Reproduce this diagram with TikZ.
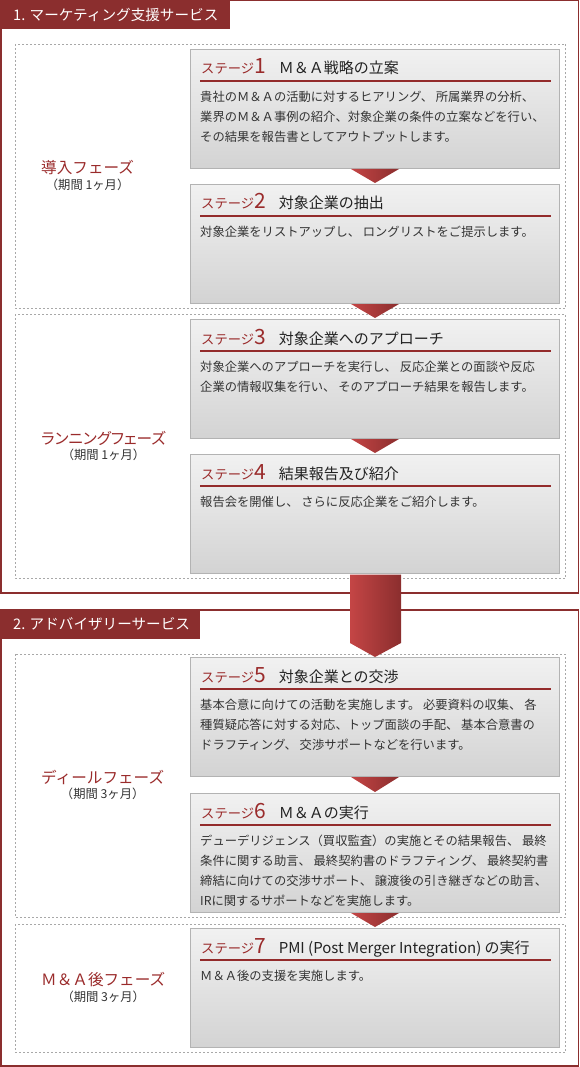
\documentclass[tikz,border=0pt]{standalone}
\usepackage{fontspec}
\setmainfont{Noto Sans CJK JP}
\newfontfamily\jpprop[RawFeature=+palt]{Noto Sans CJK JP}
\usetikzlibrary{calc}
\definecolor{secred}{HTML}{8B2E2E}
\definecolor{titlered}{HTML}{9A2B2B}
\definecolor{ulred}{HTML}{932B2B}
\definecolor{boxborder}{HTML}{B3B3B3}
\definecolor{dashgray}{HTML}{A8A8A8}
\definecolor{gtop}{HTML}{F1F1F1}
\definecolor{gbot}{HTML}{D3D3D3}
\definecolor{titletext}{HTML}{222222}
\definecolor{bodytext}{HTML}{333333}
\definecolor{arrowL}{HTML}{C44545}
\definecolor{arrowR}{HTML}{8B2E2E}
\tikzset{
  sectionbox/.style={draw=secred, line width=1.5pt},
  tabbox/.style={fill=secred},
  tabtext/.style={anchor=west, inner sep=0, text=white, font=\fontsize{14.6}{16}\selectfont},
  phasebox/.style={draw=dashgray, line width=0.8pt, dash pattern=on 2pt off 2pt},
  stagebox/.style={draw=boxborder, line width=1pt, top color=gtop, middle color=gtop, bottom color=gbot, minimum width=369, minimum height=119, inner sep=0},
  uline/.style={draw=ulred, line width=2pt},
  stitle/.style={anchor=base west, inner sep=0, text=titletext, font=\fontsize{15}{17}\selectfont},
  sbody/.style={anchor=north west, inner sep=0, align=left, text=bodytext, font=\fontsize{12.3}{20}\selectfont},
  phlabel/.style={anchor=west, inner sep=0, text=titlered, font=\fontsize{15.6}{18}\selectfont},
  phsub/.style={inner sep=0, text=bodytext, font=\fontsize{12.3}{14}\selectfont},
  tri/.style={left color=arrowL, right color=arrowR, draw=none},
}
\newcommand\mystage[5]{%
  \node[stagebox, anchor=north west] (#1) at (190,#2) {};
  \draw[uline] ($(#1.north west)+(10,32)$) -- ($(#1.north east)+(-9,32)$);
  \node[stitle] (#1t) at ($(#1.north west)+(11,25)$) {{\color{titlered}\fontsize{13.3}{15}\selectfont ステージ}{\color{titlered}\fontsize{21}{22}\selectfont #3}\hspace{13pt}#4};
  \node[sbody] (#1b) at ($(#1.north west)+(10,42)$) {#5};
}
\newcommand\myphase[4]{%
  \node[phlabel] (#1) at (41,#2) {#3};
  \node[phsub] (#1s) at ($(#1.center)+(0,17)$) {#4};
}
\begin{document}
\begin{tikzpicture}[x=1pt,y=-1pt]
\useasboundingbox (0,0) rectangle (580,1067);
% section frames
\draw[sectionbox] (1,0.75) rectangle (578.5,593);
\draw[sectionbox] (1,609.75) rectangle (578.5,1066);
% phase boxes
\draw[phasebox] (15,44) rectangle (565.5,308);
\draw[phasebox] (15,314) rectangle (565.5,578);
\draw[phasebox] (15,654) rectangle (565.5,917);
\draw[phasebox] (15,924) rectangle (565.5,1052);
% tabs
\fill[tabbox] (0,0) rectangle (230,29.5);
\node[tabtext] (tab1) at (13,15) {1. マーケティング支援サービス};
\fill[tabbox] (0,609) rectangle (200,639);
\node[tabtext] (tab2) at (13,624) {2. アドバイザリーサービス};
% stages
\mystage{s1}{49}{1}{Ｍ＆Ａ戦略の立案}{貴社のＭ＆Ａの活動に対するヒアリング、 所属業界の分析、\\業界のＭ＆Ａ事例の紹介、対象企業の条件の立案などを行い、\\その結果を報告書としてアウトプットします。}
\mystage{s2}{184}{2}{対象企業の抽出}{対象企業をリストアップし、 ロングリストをご提示します。}
\mystage{s3}{319}{3}{対象企業へのアプローチ}{対象企業へのアプローチを実行し、 反応企業との面談や反応\\企業の情報収集を行い、 そのアプローチ結果を報告します。}
\mystage{s4}{454}{4}{結果報告及び紹介}{報告会を開催し、 さらに反応企業をご紹介します。}
\mystage{s5}{657}{5}{対象企業との交渉}{基本合意に向けての活動を実施します。 必要資料の収集、 各\\種質疑応答に対する対応、トップ面談の手配、 基本合意書の\\ドラフティング、 交渉サポートなどを行います。}
\mystage{s6}{793}{6}{Ｍ＆Ａの実行}{デューデリジェンス（買収監査）の実施とその結果報告、 最終\\条件に関する助言、 最終契約書のドラフティング、 最終契約書\\締結に向けての交渉サポート、 譲渡後の引き継ぎなどの助言、\\IRに関するサポートなどを実施します。}
\mystage{s7}{928}{7}{PMI (Post Merger Integration) の実行}{Ｍ＆Ａ後の支援を実施します。}
% small arrows
\shade[tri] ($(s1.south)+(-24,0)$) -- ($(s1.south)+(24,0)$) -- ($(s2.north)+(0,-1)$) -- cycle;
\shade[tri] ($(s2.south)+(-24,0)$) -- ($(s2.south)+(24,0)$) -- ($(s3.north)+(0,-1)$) -- cycle;
\shade[tri] ($(s3.south)+(-24,0)$) -- ($(s3.south)+(24,0)$) -- ($(s4.north)+(0,-1)$) -- cycle;
\shade[tri] ($(s5.south)+(-24,0)$) -- ($(s5.south)+(24,0)$) -- ($(s6.north)+(0,-1)$) -- cycle;
\shade[tri] ($(s6.south)+(-24,0)$) -- ($(s6.south)+(24,0)$) -- ($(s7.north)+(0,-1)$) -- cycle;
% big arrow
\shade[tri] ($(s4.south)+(-25,0.5)$) -- ($(s4.south)+(26,0.5)$) -- ($(s5.north)+(26,-14)$) -- (s5.north) -- ($(s5.north)+(-25,-14)$) -- cycle;
% phase labels
\myphase{p1}{168}{導入フェーズ}{（期間 1ヶ月）}
\myphase{p2}{438}{\jpprop ランニングフェーズ}{（期間 1ヶ月）}
\myphase{p3}{777}{ディールフェーズ}{（期間 3ヶ月）}
\myphase{p4}{980}{Ｍ＆Ａ後フェーズ}{（期間 3ヶ月）}
\end{tikzpicture}
\end{document}
